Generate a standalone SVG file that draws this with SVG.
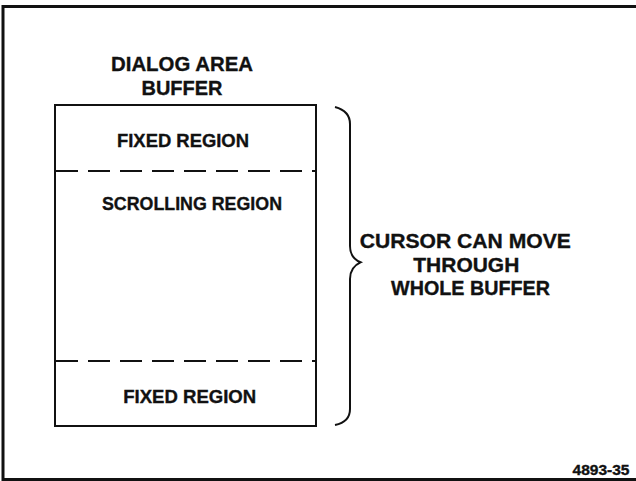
<svg xmlns="http://www.w3.org/2000/svg" width="636" height="481" viewBox="0 0 636 481">
  <style>
    .t { font-family: "Liberation Sans", Arial, sans-serif; font-weight: bold; fill: #111; stroke: #111; stroke-width: 0.35; text-anchor: middle; }
    .line { fill: none; stroke: #111; stroke-width: 2; }
    .dash { fill: none; stroke: #111; stroke-width: 2; stroke-dasharray: 22 10; }
  </style>
  <rect width="636" height="481" fill="#fff"/>
  <!-- outer frame, open on the right -->
  <path d="M640 6.5 H3 V479.5 H640" fill="none" stroke="#111" stroke-width="3"/>

  <g id="title">
    <text class="t" x="182" y="71" font-size="21" textLength="142" lengthAdjust="spacingAndGlyphs">DIALOG AREA</text>
    <text class="t" x="182" y="95" font-size="21" textLength="81" lengthAdjust="spacingAndGlyphs">BUFFER</text>
  </g>

  <g id="buffer">
    <rect class="line" x="55" y="105" width="261" height="321"/>
    <g id="fixed-top">
      <text class="t" x="183" y="147" font-size="19" textLength="132" lengthAdjust="spacingAndGlyphs">FIXED REGION</text>
    </g>
    <g id="scrolling">
      <text class="t" x="192" y="210" font-size="19" textLength="180" lengthAdjust="spacingAndGlyphs">SCROLLING REGION</text>
    </g>
    <g id="fixed-bottom">
      <text class="t" x="189.7" y="403.3" font-size="19" textLength="133" lengthAdjust="spacingAndGlyphs">FIXED REGION</text>
    </g>
  </g>

  <g id="connectors">
    <line class="dash" x1="56" y1="171" x2="316" y2="171"/>
    <line class="dash" x1="56" y1="361" x2="316" y2="361"/>
    <!-- brace spanning the whole buffer -->
    <path class="line" d="M335 107 Q350 111 350 124 V246 Q350 258 360.5 262.3 Q350 267 350 279 V409 Q350 422 335 425"/>
  </g>

  <g id="note">
    <text class="t" x="465.3" y="248" font-size="20.5" textLength="211" lengthAdjust="spacingAndGlyphs">CURSOR CAN MOVE</text>
    <text class="t" x="466.3" y="272" font-size="20.5" textLength="106" lengthAdjust="spacingAndGlyphs">THROUGH</text>
    <text class="t" x="470.5" y="294.5" font-size="20.5" textLength="159" lengthAdjust="spacingAndGlyphs">WHOLE BUFFER</text>
  </g>

  <text class="t" x="601" y="475" font-size="14" textLength="57" lengthAdjust="spacingAndGlyphs">4893-35</text>
</svg>
